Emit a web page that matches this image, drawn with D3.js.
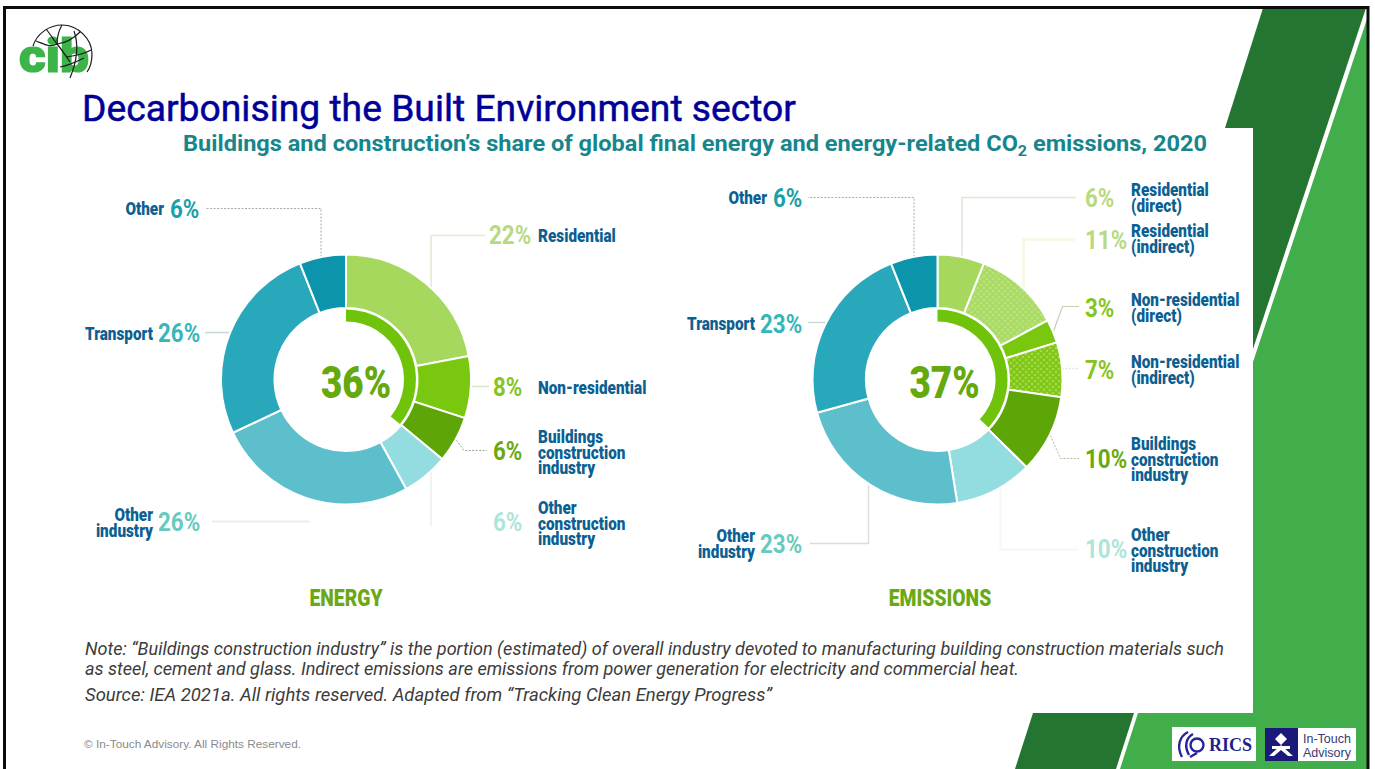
<!DOCTYPE html>
<html>
<head>
<meta charset="utf-8">
<script src="https://cdn.jsdelivr.net/npm/d3@7/dist/d3.min.js"></script>
<style>
html,body{margin:0;padding:0;background:#fff;overflow:hidden}
svg{display:block}
text{font-family:Roboto,sans-serif}
</style>
</head>
<body>
<div id="chart"></div>
<script>
// Series values (percent shares)
const energyKeys = ["Residential","Non-residential","Buildings construction industry","Other construction industry","Other industry","Transport","Other"];
const energyValues = [22,8,6,6,26,26,6];
const emissionKeys = ["Residential (direct)","Residential (indirect)","Non-residential (direct)","Non-residential (indirect)","Buildings construction industry","Other construction industry","Other industry","Transport","Other"];
const emissionValues = [6,11,3,7,10,10,23,23,6];
const energyTotal = 36;
const emissionTotal = 37;

// Slice fills, in the same order as the values
const energyFills = ["#a7d85e","#7ac70f","#5ea508","#93dce0","#5dbfcb","#2aa8bb","#0b94ab"];
const emissionFills = ["#a7d85e","url(#dotsLight)","#7ac70f","url(#dotsMid)","#5ea508","#93dce0","#5dbfcb","#2aa8bb","#0b94ab"];

// Percent label colours, in the same order as the values
const energyPctColors = ["#b7d981","#86c51f","#6aa90f","#aee5da","#66cbbf","#37b6b9","#1b9fa9"];
const emissionPctColors = ["#b7d981","#b7d981","#86c51f","#86c51f","#6aa90f","#aee5da","#66cbbf","#37b6b9","#1b9fa9"];

// Label wrapping and placement: [pct x, pct y, name x, first name y, anchor, lines]
const energyLabels = [
  [489,244,538,242,"start",["Residential"]],
  [493,396,538,394,"start",["Non-residential"]],
  [493,460,538,443,"start",["Buildings","construction","industry"]],
  [493,531,538,514,"start",["Other","construction","industry"]],
  [158,531,153,521,"end",["Other","industry"]],
  [158,342,153,340,"end",["Transport"]],
  [170,218,164,215,"end",["Other"]]
];
const emissionLabels = [
  [1085,207,1131,196,"start",["Residential","(direct)"]],
  [1085,249,1131,237,"start",["Residential","(indirect)"]],
  [1085,317,1131,306,"start",["Non-residential","(direct)"]],
  [1085,379,1131,368,"start",["Non-residential","(indirect)"]],
  [1085,468,1131,450,"start",["Buildings","construction","industry"]],
  [1085,558,1131,541,"start",["Other","construction","industry"]],
  [760,553,755,542,"end",["Other","industry"]],
  [760,333,755,330,"end",["Transport"]],
  [773,207,767,204,"end",["Other"]]
];

// Leader lines: kind v leaves the ring vertically at offset a, kind h horizontally at offset a,
// kind d diagonally from the slice's mid angle to elbow (a, b); all then run along to labelX.
const energyLeaders = [
  {i:0,kind:"v",a:85,b:-144,labelX:485,color:"#e2ead4",w:1.6},
  {i:1,kind:"h",a:7,labelX:489,color:"#dbe8c6",w:1.6},
  {i:2,kind:"d",a:118,b:71,labelX:487,color:"#9aa58e",w:1,dash:"2 1.5"},
  {i:3,kind:"v",a:85,b:146,labelX:432,color:"#f1f3f3",w:2},
  {i:4,kind:"h",a:142,labelX:212,x0:-36,color:"#e9efef",w:2},
  {i:5,kind:"h",a:-47,labelX:205,color:"#c8d8d8",w:1.6},
  {i:6,kind:"v",a:-25,b:-171,labelX:205,color:"#a4adaf",w:1,dash:"2 1.5"}
];
const emissionLeaders = [
  {i:0,kind:"v",a:24.5,b:-182,labelX:1076,color:"#dfe6d8",w:1.4},
  {i:1,kind:"v",a:86,b:-140,labelX:1075,color:"#f6f8ec",w:3},
  {i:2,kind:"d",a:125,b:-73,labelX:1079,color:"#c4cfb0",w:1.2},
  {i:3,kind:"h",a:-11,labelX:1079,color:"#e1e9d6",w:1.4,dash:"2 1.5"},
  {i:4,kind:"d",a:123,b:79,labelX:1079,color:"#b4bda6",w:1,dash:"2 1.5"},
  {i:5,kind:"v",a:63,b:170,labelX:1078,color:"#f4f8f8",w:2},
  {i:6,kind:"v",a:-69,b:164,labelX:810,color:"#d5dfdf",w:1.4},
  {i:7,kind:"h",a:-57,labelX:808,color:"#c8d8d8",w:1.4},
  {i:8,kind:"v",a:-23.5,b:-182,labelX:808,color:"#a4adaf",w:1,dash:"2 1.5"}
];

const noteLines = [
  "Note: “Buildings construction industry” is the portion (estimated) of overall industry devoted to manufacturing building construction materials such",
  "as steel, cement and glass. Indirect emissions are emissions from power generation for electricity and commercial heat.",
  "Source: IEA 2021a. All rights reserved. Adapted from “Tracking Clean Energy Progress”"
];

const width = 1375, height = 769;
const svg = d3.select("#chart").append("svg").attr("width", width).attr("height", height);

// Dotted fills for the indirect emission slices
const defs = svg.append("defs");
[["dotsLight","#a9da62","#cbe99a"],["dotsMid","#7cc610","#c6e884"]].forEach(([id,bg,dot]) => {
  const p = defs.append("pattern").attr("id",id).attr("patternUnits","userSpaceOnUse")
    .attr("width",6).attr("height",6);
  p.append("rect").attr("width",6).attr("height",6).attr("fill",bg);
  p.append("circle").attr("cx",1.5).attr("cy",1.5).attr("r",1.1).attr("fill",dot);
  p.append("circle").attr("cx",4.5).attr("cy",4.5).attr("r",1.1).attr("fill",dot);
});

// Slide frame and green corner shapes
const poly = (pts, fill) => svg.append("polygon").attr("points", pts.map(p => p.join(",")).join(" ")).attr("fill", fill);
svg.append("rect").attr("width",width).attr("height",height).attr("fill","#fff");
poly([[1263,8],[1366,8],[1252,352],[1225,128]], "#237531");
poly([[1368,16],[1368,769],[1120,769],[1138,713],[1253,713],[1253,362]], "#41ae4b");
svg.append("rect").attr("x",0).attr("y",128).attr("width",1253).attr("height",585).attr("fill","#fff");
poly([[1033,713],[1134,713],[1116,769],[1015,769]], "#237531");
svg.append("path").attr("d","M4.5 769V7.5H1368V769").attr("fill","none").attr("stroke","#0c0c0c").attr("stroke-width",3);

// Headline and subtitle
function fit(sel, w){ return sel.attr("textLength",w).attr("lengthAdjust","spacingAndGlyphs"); }
fit(svg.append("text").attr("x",82).attr("y",120.5).attr("font-size",37.5).attr("fill","#000099")
  .attr("stroke","#000099").attr("stroke-width",0.5)
  .text("Decarbonising the Built Environment sector"),714);
const sub = svg.append("text").attr("x",183).attr("y",151).attr("font-size",22).attr("font-weight",700).attr("fill","#17868c");
sub.append("tspan").text("Buildings and construction’s share of global final energy and energy-related CO");
sub.append("tspan").attr("font-size",15).attr("dy",5).text("2");
sub.append("tspan").attr("dy",-5).text(" emissions, 2020");
fit(sub,1024);

// Donut: outer slices from the pie layout, inner ring showing the buildings total
const R = 125, r0 = 71.5;
function donut(cx, cy, keys, values, fills, total, labels, pctColors, leaders, caption, captionX){
  const g = svg.append("g").attr("transform",`translate(${cx},${cy})`);
  const pie = d3.pie().sort(null).value((d,i) => values[i]);
  const slices = pie(keys);
  const arc = d3.arc().innerRadius(r0).outerRadius(R);

  leaders.forEach(l => {
    const s = slices[l.i], mid = (s.startAngle + s.endAngle) / 2;
    const yOn = a => Math.sign(l.b) * Math.sqrt(R*R - a*a);
    const line = d3.path();
    if (l.kind === "v") {
      line.moveTo(l.a, yOn(l.a)); line.lineTo(l.a, l.b); line.lineTo(l.labelX - cx, l.b);
    } else if (l.kind === "h") {
      const sx = l.labelX > cx ? 1 : -1;
      line.moveTo(l.x0 !== undefined ? l.x0 : sx * Math.sqrt(R*R - l.a*l.a), l.a); line.lineTo(l.labelX - cx, l.a);
    } else {
      line.moveTo(Math.sin(mid)*(R+1), -Math.cos(mid)*(R+1)); line.lineTo(l.a, l.b); line.lineTo(l.labelX - cx, l.b);
    }
    g.append("path").attr("d",line.toString()).attr("fill","none")
      .attr("stroke",l.color).attr("stroke-width",l.w).attr("stroke-dasharray",l.dash||null);
  });

  g.selectAll("path.slice").data(slices).join("path").attr("class","slice")
    .attr("d",arc).attr("fill",(d,i) => fills[i]).attr("stroke","#fff").attr("stroke-width",2);

  const ring = d3.pie().sort(null)([total, 100 - total])[0];
  g.append("path").attr("d",d3.arc().innerRadius(58).outerRadius(70)(ring)).attr("fill","#6fc40b");

  g.append("text").attr("transform",`translate(${total === 36 ? 10 : 7},18) scale(.82,1)`).attr("text-anchor","middle")
    .attr("font-size",45).attr("font-weight",900).attr("fill","#65a90f")
    .text(total + "%");

  labels.forEach((l,i) => {
    const [px,py,nx,ny,anchor,lines] = l;
    svg.append("text").attr("transform",`translate(${px},${py}) scale(.86,1)`)
      .attr("font-size",26).attr("font-weight",700).attr("fill",pctColors[i]).text(values[i] + "%");
    lines.forEach((t,j) => {
      svg.append("text").attr("transform",`translate(${nx},${ny + j*15.6}) scale(.875,1)`)
        .attr("text-anchor",anchor).attr("font-size",17.5).attr("font-weight",900).attr("fill","#0c5f92").text(t);
    });
  });

  svg.append("text").attr("transform",`translate(${captionX},606) scale(.84,1)`).attr("text-anchor","middle")
    .attr("font-size",23).attr("font-weight",900).attr("fill","#6aa915").text(caption);
}
donut(346,379.5,energyKeys,energyValues,energyFills,energyTotal,energyLabels,energyPctColors,energyLeaders,"ENERGY",346);
donut(937.5,379.5,emissionKeys,emissionValues,emissionFills,emissionTotal,emissionLabels,emissionPctColors,emissionLeaders,"EMISSIONS",940);

// Footnotes
const noteY = [654.5,674.5,701], noteW = [1139,934,687];
noteLines.forEach((t,i) => {
  fit(svg.append("text").attr("x",85).attr("y",noteY[i]).attr("font-size",17.5).attr("font-style","italic")
    .attr("fill","#3c3c3c").text(t),noteW[i]);
});
svg.append("text").attr("x",84).attr("y",748).attr("font-size",11.8).attr("fill","#8a8a8a")
  .style("font-family","'Liberation Sans'").text("© In-Touch Advisory. All Rights Reserved.");

// Organisation logo, top left
const logo = svg.append("g");
logo.append("text").attr("transform","translate(19,72) scale(1.12,1)").attr("font-size",46).attr("font-weight",900)
  .attr("fill","#3cb44a").attr("stroke","#3cb44a").attr("stroke-width",1.2).text("cib");
["M33 46C37 33 50 25 62 25C78 25 92 39 92 54C92 62 90 68 87 72",
 "M46 29C50 34 54 40 57 44C66 43 74 38 80 32",
 "M36 41C44 44 50 48 57 44M57 44C62 50 66 56 70 62",
 "M62 25C58 32 57 38 57 44M74 31C78 42 79 56 70 78",
 "M66 57C74 56 84 54 91 50M60 67C66 66 76 62 84 58"].forEach(d => {
  logo.append("path").attr("d",d).attr("fill","none").attr("stroke","#1a1a1a").attr("stroke-width",1.2);
});

// Partner logos, bottom right
svg.append("rect").attr("x",1172).attr("y",727).attr("width",84).attr("height",34).attr("fill","#fff");
svg.append("text").attr("x",1209).attr("y",751).attr("font-size",18).attr("font-weight",700)
  .style("font-family","'Liberation Serif'").attr("fill","#1f1f8f").text("RICS");
const lion = svg.append("g").attr("fill","none").attr("stroke","#25259a").attr("stroke-width",2.4);
lion.append("path").attr("d","M1188 732C1180 736 1176 746 1182 757");
lion.append("path").attr("d","M1193 734C1186 738 1184 746 1189 755");
lion.append("circle").attr("cx",1197).attr("cy",745).attr("r",6.5);
lion.append("path").attr("d","M1197 753L1190 757");

svg.append("rect").attr("x",1265).attr("y",728).attr("width",91).attr("height",33).attr("fill","#fff");
svg.append("rect").attr("x",1265).attr("y",728).attr("width",33).attr("height",33).attr("fill","#1b1a78");
svg.append("path").attr("d","M1281 733L1287 739L1281 745L1275 739ZM1269 756L1281 745L1293 756L1288 756L1281 750L1274 756Z").attr("fill","#fff");
svg.append("rect").attr("x",1272).attr("y",746).attr("width",18).attr("height",3).attr("fill","#fff");
["In-Touch","Advisory"].forEach((t,i) => {
  svg.append("text").attr("x",1303).attr("y",743 + i*13.5).attr("font-size",12.5)
    .style("font-family","'Liberation Sans'").attr("fill","#3a3a70").text(t);
});
</script>
</body>
</html>
